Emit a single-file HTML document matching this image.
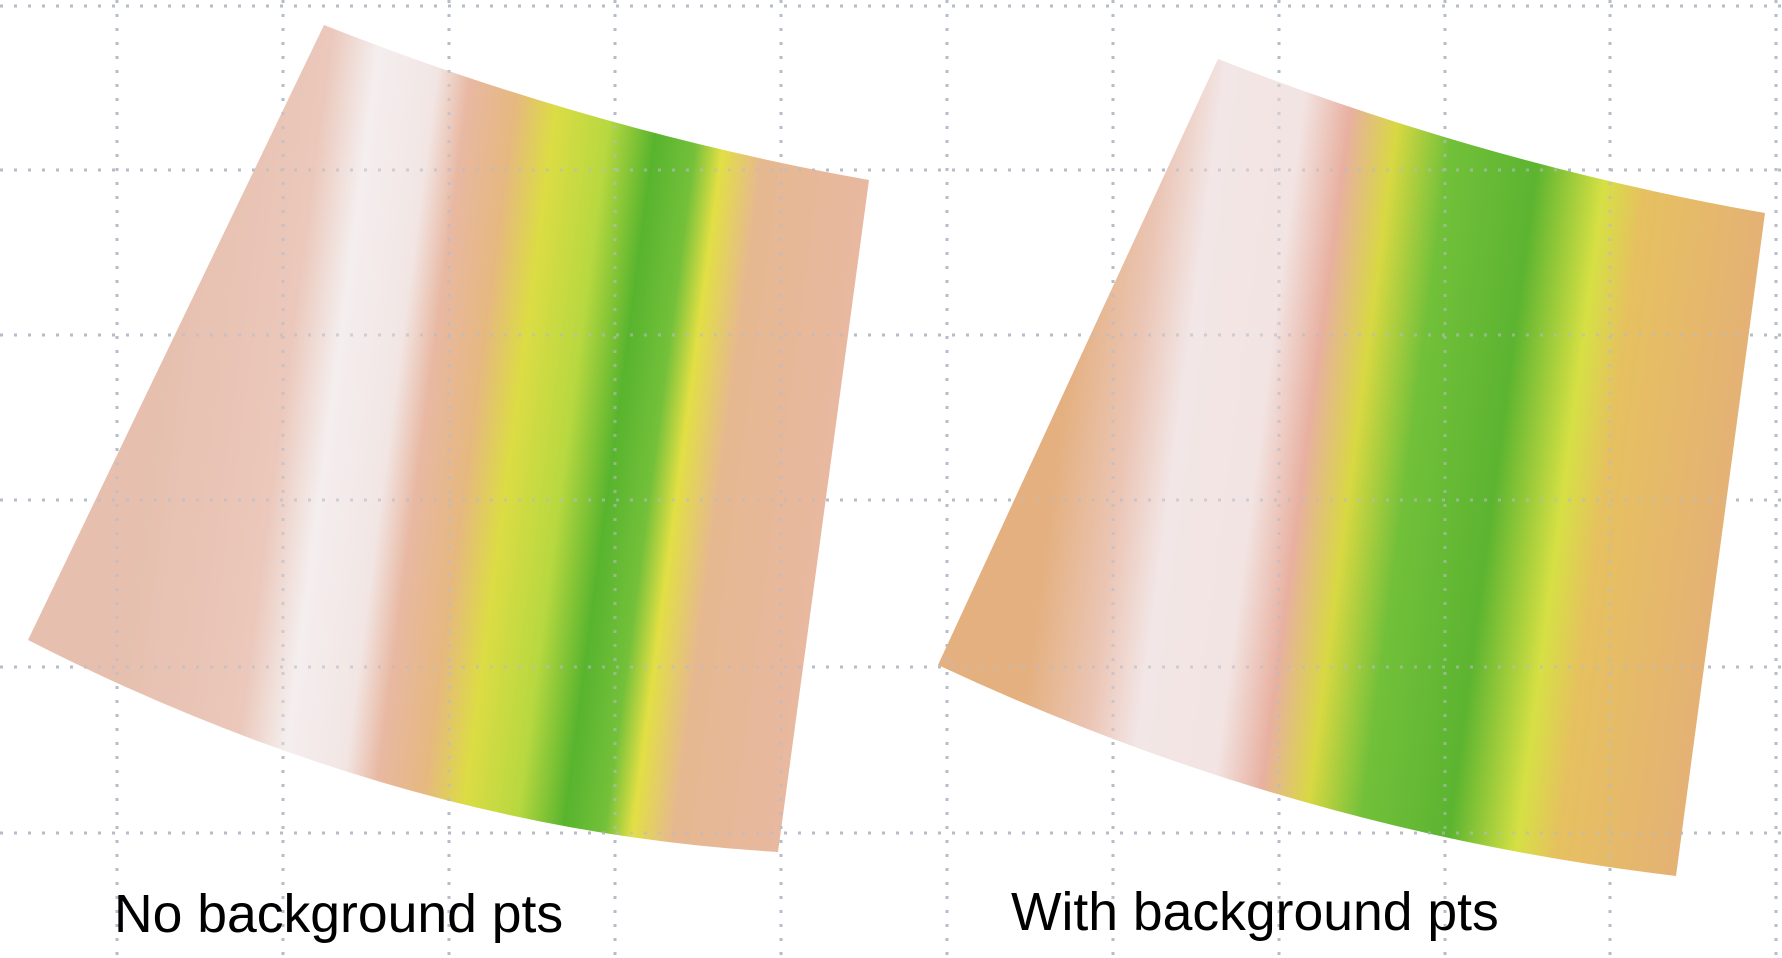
<!DOCTYPE html>
<html><head><meta charset="utf-8"><style>
html,body{margin:0;padding:0;background:#fff;width:1782px;height:958px;overflow:hidden}
svg{display:block}
text{font-family:"Liberation Sans",sans-serif}
</style></head><body>
<svg id="fig" width="1782" height="958" viewBox="0 0 1782 958">
<defs>
<linearGradient id="gL" gradientUnits="userSpaceOnUse" x1="153" y1="398" x2="829" y2="487">
<stop offset="0" stop-color="#e6bfae"/>
<stop offset="0.19" stop-color="#ebc8bb"/>
<stop offset="0.26" stop-color="#f4eeee"/>
<stop offset="0.35" stop-color="#f2e6e4"/>
<stop offset="0.40" stop-color="#e8b8a2"/>
<stop offset="0.47" stop-color="#e6b880"/>
<stop offset="0.53" stop-color="#dcdc44"/>
<stop offset="0.61" stop-color="#b8d840"/>
<stop offset="0.68" stop-color="#58b42e"/>
<stop offset="0.74" stop-color="#74c03a"/>
<stop offset="0.78" stop-color="#e2df44"/>
<stop offset="0.84" stop-color="#e6b890"/>
<stop offset="1" stop-color="#e8b8a0"/>
</linearGradient>
<linearGradient id="gR" gradientUnits="userSpaceOnUse" x1="1057" y1="455" x2="1736" y2="544">
<stop offset="0" stop-color="#e4b080"/>
<stop offset="0.10" stop-color="#ebc6b6"/>
<stop offset="0.17" stop-color="#f2e6e6"/>
<stop offset="0.29" stop-color="#f2e4e2"/>
<stop offset="0.36" stop-color="#e8b0a0"/>
<stop offset="0.43" stop-color="#d8d842"/>
<stop offset="0.51" stop-color="#72c03a"/>
<stop offset="0.64" stop-color="#5cb430"/>
<stop offset="0.74" stop-color="#d6e044"/>
<stop offset="0.80" stop-color="#e6c060"/>
<stop offset="1" stop-color="#e4b078"/>
</linearGradient>
</defs>
<g id="grid" stroke="#b6bcca" stroke-width="3" stroke-dasharray="3 11" fill="none"></g>
<path fill="url(#gL)" d="M324,25 Q590,130 869,180 L778,852 Q400,830 28,640 Z"/>
<path fill="url(#gR)" d="M1218,59 Q1490,165 1765,213 L1676,876 Q1290,830 938,665 Z"/>
<g id="grid2" stroke="#b6bcca" stroke-width="3" stroke-dasharray="3 11" fill="none" opacity="0.6"></g>
<text x="114" y="932" font-size="53.5" fill="#000">No background pts</text>
<text x="1011" y="930" font-size="53.5" fill="#000">With background pts</text>
</svg>
<script>
const gridX=[117,283,449,615,781,947,1113,1279,1445,1610,1776];
const gridY=[6,170,335,500,667,833];
const ns="http://www.w3.org/2000/svg";
for(const id of ["grid","grid2"]){
  const g=document.getElementById(id);
  for(const x of gridX){const l=document.createElementNS(ns,"line");
    
    
    l.setAttribute("x1",x);l.setAttribute("x2",x);l.setAttribute("y1",0);l.setAttribute("y2",958);g.appendChild(l);}
  for(const y of gridY){const l=document.createElementNS(ns,"line");
    
    
    l.setAttribute("x1",0);l.setAttribute("x2",1782);l.setAttribute("y1",y);l.setAttribute("y2",y);g.appendChild(l);}
}
</script>
</body></html>
